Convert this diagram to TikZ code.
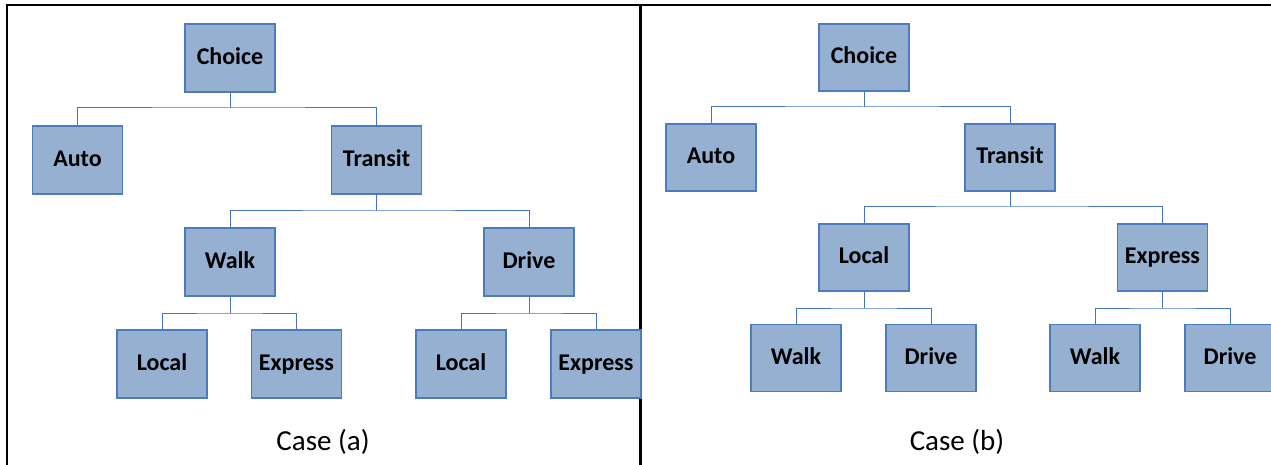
\documentclass[tikz,border=0pt]{standalone}
\usepackage{fontspec}
\setmainfont{Carlito}
\usepackage{tikz}
\usetikzlibrary{positioning}
\definecolor{boxfill}{HTML}{95B0D0}
\definecolor{boxline}{HTML}{4E7BBE}
\definecolor{linkline}{HTML}{4472C4}

\begin{document}
\begin{tikzpicture}[x=1pt, y=-1pt,
    box/.style={draw=boxline, fill=boxfill, line width=1.2pt, minimum width=90pt, minimum height=68pt,
      inner sep=0pt, text height=15.5pt, text depth=2.7pt, font=\bfseries\fontsize{24}{28}\selectfont},
    link/.style={draw=linkline, line width=1pt},
    caption/.style={font=\fontsize{29}{33}\selectfont},
    frame/.style={line width=2.6pt}]
        \useasboundingbox (0,0) rectangle (1271,465);

        % frame of the two cases
        \draw[frame] (5.7,5) -- (1271,5);
        \draw[frame] (7,5) -- (7,465);
        \draw[frame] (640.5,5) -- (640.5,465);

        % case (a) boxes
        \node[box] (A) at (230,58) {Choice};
        \node[box] (B) at (77.5,160) {Auto};
        \node[box] (C) at (376.5,160) {Transit};
        \node[box] (D) at (230,262) {Walk};
        \node[box] (E) at (529,262) {Drive};
        \node[box] (F) at (162,364) {Local};
        \node[box] (G) at (296.5,364) {Express};
        \node[box] (H) at (461,364) {Local};
        \node[box] (I) at (596,364) {Express};

        % case (b) boxes
        \node[box, minimum height=67pt] (K) at (864,57.5) {Choice};
        \node[box, minimum height=67pt] (L) at (711,157.5) {Auto};
        \node[box, minimum height=67pt] (M) at (1010,157.5) {Transit};
        \node[box, minimum height=67pt] (N) at (864,257.5) {Local};
        \node[box, minimum height=67pt] (O) at (1162.5,257.5) {Express};
        \node[box, minimum height=67pt] (P) at (796,358) {Walk};
        \node[box, minimum height=67pt] (Q) at (931,358) {Drive};
        \node[box, minimum height=67pt] (R) at (1095,358) {Walk};
        \node[box, minimum height=67pt] (S) at (1230,358) {Drive};

        % junctions of case (a)
        \coordinate (ja1) at (230,108);
        \coordinate (ja2) at (376.5,211);
        \coordinate (ja3) at (230,313);
        \coordinate (ja4) at (529,313);

        % junctions of case (b)
        \coordinate (jb1) at (864,107);
        \coordinate (jb2) at (1010,207);
        \coordinate (jb3) at (864,308);
        \coordinate (jb4) at (1162.5,308);

        % case (a) connectors
        \draw[link] (A.south) -- (ja1);
        \draw[link] (B.north) |- (ja1) -| (C.north);
        \draw[link] (C.south) -- (ja2);
        \draw[link] (D.north) |- (ja2) -| (E.north);
        \draw[link] (D.south) -- (ja3);
        \draw[link] (F.north) |- (ja3) -| (G.north);
        \draw[link] (E.south) -- (ja4);
        \draw[link] (H.north) |- (ja4) -| (I.north);

        % case (b) connectors
        \draw[link] (K.south) -- (jb1);
        \draw[link] (L.north) |- (jb1) -| (M.north);
        \draw[link] (M.south) -- (jb2);
        \draw[link] (N.north) |- (jb2) -| (O.north);
        \draw[link] (N.south) -- (jb3);
        \draw[link] (P.north) |- (jb3) -| (Q.north);
        \draw[link] (O.south) -- (jb4);
        \draw[link] (R.north) |- (jb4) -| (S.north);

        % captions
        \node[caption] (capA) at (323,442) {Case (a)};
        \node[caption] (capB) at (957,442) {Case (b)};
\end{tikzpicture}
\end{document}
